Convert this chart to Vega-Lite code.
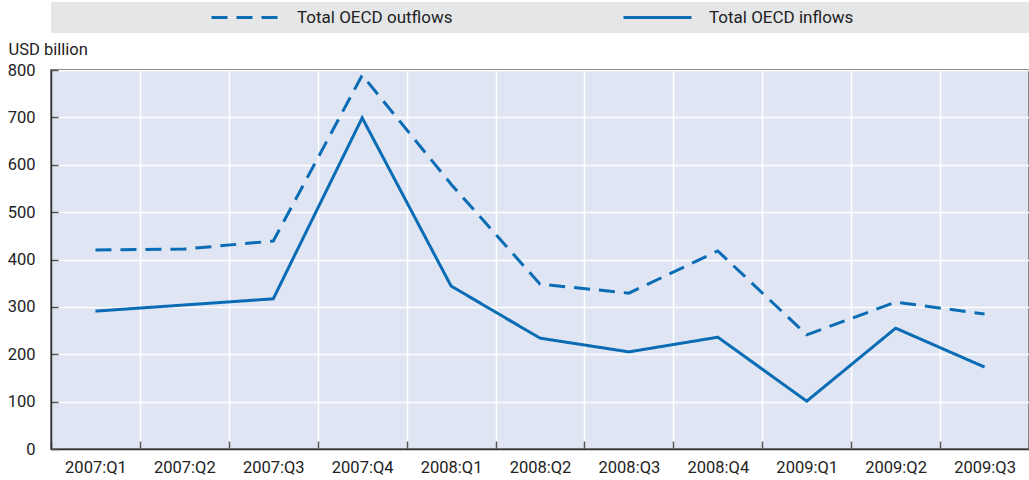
{
  "$schema": "https://vega.github.io/schema/vega-lite/v6.json",
  "autosize": {"type": "none"},
  "padding": {"left": 51, "top": 70, "right": 0, "bottom": 31},
  "width": 978,
  "height": 379,
  "background": "#ffffff",
  "config": {
    "font": "Roboto",
    "view": {"fill": "#dfe5f3", "stroke": "#333333", "strokeWidth": 1.5}
  },
  "data": {"values": [
    {"q": "2007:Q1", "series": "Total OECD outflows", "value": 420},
    {"q": "2007:Q2", "series": "Total OECD outflows", "value": 422},
    {"q": "2007:Q3", "series": "Total OECD outflows", "value": 439},
    {"q": "2007:Q4", "series": "Total OECD outflows", "value": 789},
    {"q": "2008:Q1", "series": "Total OECD outflows", "value": 559},
    {"q": "2008:Q2", "series": "Total OECD outflows", "value": 348},
    {"q": "2008:Q3", "series": "Total OECD outflows", "value": 329},
    {"q": "2008:Q4", "series": "Total OECD outflows", "value": 418},
    {"q": "2009:Q1", "series": "Total OECD outflows", "value": 241},
    {"q": "2009:Q2", "series": "Total OECD outflows", "value": 310},
    {"q": "2009:Q3", "series": "Total OECD outflows", "value": 285},
    {"q": "2007:Q1", "series": "Total OECD inflows", "value": 291},
    {"q": "2007:Q2", "series": "Total OECD inflows", "value": 304},
    {"q": "2007:Q3", "series": "Total OECD inflows", "value": 317},
    {"q": "2007:Q4", "series": "Total OECD inflows", "value": 699},
    {"q": "2008:Q1", "series": "Total OECD inflows", "value": 344},
    {"q": "2008:Q2", "series": "Total OECD inflows", "value": 234},
    {"q": "2008:Q3", "series": "Total OECD inflows", "value": 205},
    {"q": "2008:Q4", "series": "Total OECD inflows", "value": 236},
    {"q": "2009:Q1", "series": "Total OECD inflows", "value": 101},
    {"q": "2009:Q2", "series": "Total OECD inflows", "value": 255},
    {"q": "2009:Q3", "series": "Total OECD inflows", "value": 173}
  ]},
  "mark": {"type": "line", "color": "#0a6cb4", "strokeWidth": 3},
  "encoding": {
    "x": {
      "field": "q", "type": "ordinal",
      "scale": {"type": "band", "paddingInner": 0, "paddingOuter": 0},
      "axis": {
        "title": null, "labelAngle": 0, "tickBand": "extent",
        "grid": true, "gridColor": "#ffffff", "gridWidth": 1.5,
        "domainColor": "#333333", "domainWidth": 1.5,
        "tickColor": "#555555", "tickSize": -8, "tickWidth": 1.5,
        "labelFontSize": 16.5, "labelColor": "#222222", "labelPadding": 18
      }
    },
    "y": {
      "field": "value", "type": "quantitative",
      "scale": {"domain": [0, 800], "nice": false},
      "axis": {
        "title": "USD billion", "titleAngle": 0, "titleAlign": "left",
        "titleBaseline": "alphabetic", "titleX": -43, "titleY": -16,
        "titleFontSize": 16.5, "titleFontWeight": "normal", "titleColor": "#222222",
        "values": [0, 100, 200, 300, 400, 500, 600, 700, 800],
        "grid": true, "gridColor": "#ffffff", "gridWidth": 1.5,
        "domainColor": "#333333", "domainWidth": 1.5,
        "tickColor": "#555555", "tickSize": -7, "tickWidth": 1.5,
        "labelFontSize": 16.5, "labelColor": "#222222", "labelPadding": 23
      }
    },
    "strokeDash": {
      "field": "series", "type": "nominal",
      "scale": {"domain": ["Total OECD outflows", "Total OECD inflows"], "range": [[16, 9], [1, 0]]},
      "legend": {
        "orient": "none", "legendX": 0, "legendY": -68,
        "direction": "horizontal",
        "title": " ", "titleOrient": "left", "titlePadding": 152,
        "fillColor": "#e5e6e8", "strokeColor": null, "padding": 7,
        "symbolType": "stroke", "symbolSize": 4624, "symbolStrokeWidth": 3,
        "symbolStrokeColor": "#0a6cb4", "clipHeight": 17,
        "labelFontSize": 17, "labelColor": "#222222", "labelOffset": 16,
        "labelLimit": 1000, "columnPadding": 0,
        "labelExpr": "datum.label + '\u00a0\u00a0\u00a0\u00a0\u00a0\u00a0\u00a0\u00a0\u00a0\u00a0\u00a0\u00a0\u00a0\u00a0\u00a0\u00a0\u00a0\u00a0\u00a0\u00a0\u00a0\u00a0\u00a0\u00a0\u00a0\u00a0\u00a0\u00a0\u00a0\u00a0\u00a0\u00a0\u00a0\u00a0\u00a0\u00a0\u00a0\u00a0\u00a0\u00a0\u200b'"
      }
    }
  }
}
